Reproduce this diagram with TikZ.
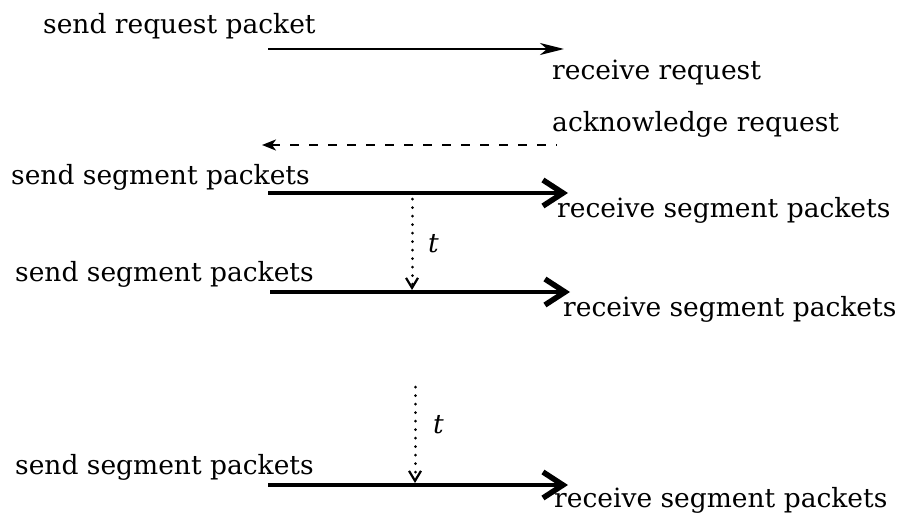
\documentclass[tikz,border=0pt]{standalone}
\usepackage{fontspec}
\setmainfont{DejaVu Serif}
\usetikzlibrary{arrows.meta}
\begin{document}
\begin{tikzpicture}[x=1pt,y=-1pt,
  lbl/.style={anchor=base west,inner sep=0pt,font=\fontsize{26.5}{30}\selectfont},
  tlbl/.style={anchor=base west,inner sep=0pt,font=\fontsize{26.5}{30}\selectfont\itshape},
  thinarrow/.style={line width=2pt,-{Stealth[length=24pt,width=12pt,inset=7pt]}},
  dasharrow/.style={line width=2.2pt,dash pattern=on 9pt off 10pt,{Stealth[length=14pt,width=11pt,inset=4pt]}-},
  thickarrow/.style={line width=4.5pt,-{Straight Barb[length=20pt,width=26pt,line width=5.5pt]}},
  dotarrow/.style={line width=3pt,dash pattern=on 0.01pt off 8.5pt,line cap=round,-{Straight Barb[length=10pt,width=12pt,line width=2.2pt]}}]
\useasboundingbox (0,0) rectangle (897,527);
% texts
\node[lbl] (s1) at (43,34) {send request packet};
\node[lbl] (r1) at (552,79) {receive request};
\node[lbl] (a1) at (552,131) {acknowledge request};
\node[lbl] (s2) at (11,184) {send segment packets};
\node[lbl] (r2) at (557,217) {receive segment packets};
\node[lbl] (s3) at (15,281) {send segment packets};
\node[lbl] (r3) at (563,316) {receive segment packets};
\node[lbl] (s4) at (15,474) {send segment packets};
\node[lbl] (r4) at (554,507) {receive segment packets};
\node[tlbl] (t1) at (428,252) {t};
\node[tlbl] (t2) at (433,433) {t};
% end points
\coordinate (p1a) at (268,49);  \coordinate (p1b) at (564,49);
\coordinate (p2a) at (262,145); \coordinate (p2b) at (557,145);
\coordinate (p3a) at (268,193); \coordinate (p3b) at (568,193);
\coordinate (p4a) at (270,292); \coordinate (p4b) at (570,292);
\coordinate (p5a) at (268,485); \coordinate (p5b) at (568,485);
\coordinate (d1a) at (412,199); \coordinate (d1b) at (412,290);
\coordinate (d2a) at (415,387); \coordinate (d2b) at (415,483);
% connectors
\draw[thinarrow] (p1a) -- (p1b);
\draw[dasharrow] (p2a) -- (p2b);
\draw[thickarrow] (p3a) -- (p3b);
\draw[thickarrow] (p4a) -- (p4b);
\draw[thickarrow] (p5a) -- (p5b);
\draw[dotarrow] (d1a) -- (d1b);
\draw[dotarrow] (d2a) -- (d2b);
\end{tikzpicture}
\end{document}
